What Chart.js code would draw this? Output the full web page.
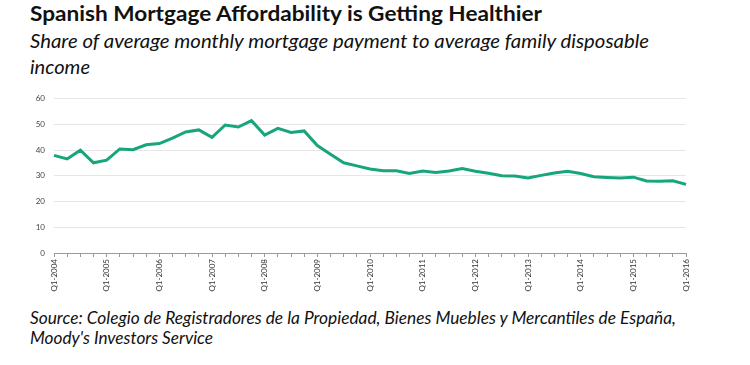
<!DOCTYPE html>
<html><head><meta charset="utf-8">
<script src="https://cdn.jsdelivr.net/npm/chart.js@4.4.0/dist/chart.umd.min.js"></script>
<style>
html,body{margin:0;padding:0;background:#fff;width:750px;height:365px;overflow:hidden;}
.t{position:absolute;left:30px;white-space:nowrap;color:#111;font-family:Lato,"Open Sans",sans-serif;transform-origin:0 0;line-height:1;}
#wrap{position:absolute;left:0;top:85px;width:750px;height:215px;}
</style></head>
<body>
<div class="t" id="title" data-w="512" style="top:2px;font-size:21px;font-weight:bold;">Spanish Mortgage Affordability is Getting Healthier</div>
<div class="t" id="sub1" data-w="619" style="top:31px;font-size:19px;font-style:italic;">Share of average monthly mortgage payment to average family disposable</div>
<div class="t" id="sub2" data-w="60" style="top:57px;font-size:19px;font-style:italic;">income</div>
<div class="t" id="src1" data-w="646" style="top:308px;font-size:18px;font-style:italic;">Source: Colegio de Registradores de la Propiedad, Bienes Muebles y Mercantiles de España,</div>
<div class="t" id="src2" data-w="183" style="top:328px;font-size:18px;font-style:italic;">Moody's Investors Service</div>
<div id="wrap"><canvas id="c" width="750" height="215"></canvas></div>
<script>
// Quarterly categories Q1-2004 .. Q1-2016
const years = [2004,2005,2006,2007,2008,2009,2010,2011,2012,2013,2014,2015,2016];
const quarters = ["Q1","Q2","Q3","Q4"];
const categories = [];
years.forEach(y => quarters.forEach(q => { if (y < 2016 || q === "Q1") categories.push(q + "-" + y); }));

// Share of average monthly mortgage payment to average family disposable income (%)
const affordability = [
  38.0, 36.6, 40.0, 35.1,
  36.1, 40.5, 40.2, 42.1,
  42.6, 44.7, 47.1, 47.9,
  45.0, 49.8, 49.0, 51.5,
  45.9, 48.5, 46.9, 47.5,
  41.8, 38.4, 35.1, 33.9,
  32.7, 32.0, 32.0, 30.9,
  31.9, 31.3, 31.9, 32.9,
  31.8, 31.0, 30.1, 30.0,
  29.2, 30.2, 31.1, 31.8,
  30.9, 29.7, 29.4, 29.2,
  29.5, 28.0, 27.9, 28.1,
  26.7
];
const yTicks = [0,10,20,30,40,50,60];

function fitText(){
  document.querySelectorAll('.t').forEach(el=>{
    const w = el.getBoundingClientRect().width;
    const target = +el.dataset.w;
    el.style.transform = 'scaleX(' + (target / w) + ')';
  });
}

function draw(){
  fitText();
  new Chart(document.getElementById('c'), {
    type: 'line',
    data: {
      labels: categories,
      datasets: [{
        data: affordability,
        borderColor: '#17a57c',
        borderWidth: 3,
        pointRadius: 0,
        tension: 0,
        fill: false
      }]
    },
    options: {
      responsive: false,
      animation: false,
      layout: { padding: { left: 30, right: 64, top: 11, bottom: 2 } },
      plugins: { legend: { display: false }, tooltip: { enabled: false } },
      scales: {
        x: {
          offset: false,
          afterFit: s => { s.height = 45; },
          grid: { display: true, drawOnChartArea: false, drawTicks: true, tickLength: 4, color: '#9a9a9a' },
          border: { display: true, color: '#9a9a9a', width: 1 },
          ticks: {
            autoSkip: false, maxRotation: 90, minRotation: 90, padding: 2,
            color: '#333', font: { family: 'Lato, sans-serif', size: 8 },
            callback: function(v, i){ const l = categories[i]; return l.startsWith('Q1') ? l : ''; }
          }
        },
        y: {
          min: 0, max: 60,
          afterFit: s => { s.width = 24; },
          afterBuildTicks: s => { s.ticks = yTicks.map(v => ({ value: v })); },
          grid: { color: '#e6e6e6', drawTicks: false, lineWidth: 1 },
          border: { display: false },
          ticks: { padding: 9, color: '#444', font: { family: 'Lato, sans-serif', size: 8 } }
        }
      }
    }
  });
}
if (document.fonts && document.fonts.ready) { document.fonts.ready.then(draw); } else { draw(); }
</script>
</body></html>
